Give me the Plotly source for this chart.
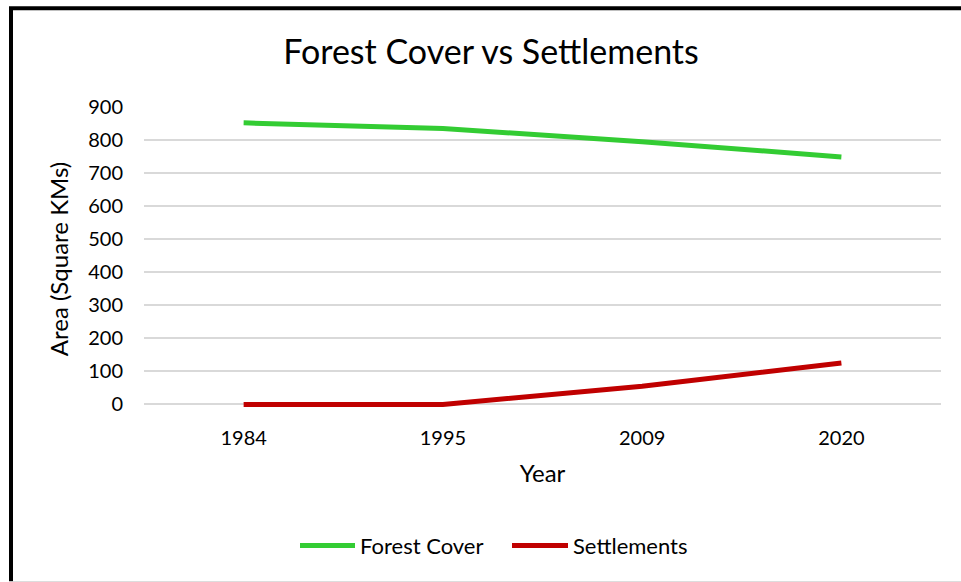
import plotly.graph_objects as go

years = ["1984", "1995", "2009", "2020"]
forest_cover = [852, 835, 795, 749]
settlements = [0, 0, 55, 125]
y_ticks = [0, 100, 200, 300, 400, 500, 600, 700, 800, 900]
series_names = ["Forest Cover", "Settlements"]
series_colors = ["#33CC33", "#C00000"]

FONT = "Lato"
W, H = 961, 582
Y_MIN, Y_MAX = -20, 900
top_px, zero_px = 107, 404
unit = (zero_px - top_px) / Y_MAX
bottom_px = zero_px - Y_MIN * unit
L, R, T, B = 144, 20, top_px, H - bottom_px
pw = W - L - R
ph = H - T - B

def px_x(x):
    return (x - L) / pw

def px_y(y):
    return (H - B - y) / ph

fig = go.Figure()
for name, vals, col in zip(series_names, [forest_cover, settlements], series_colors):
    fig.add_trace(go.Scatter(x=years, y=vals, mode="lines", name=name,
                             line=dict(color=col, width=5), showlegend=False))

fig.update_layout(
    width=W, height=H,
    margin=dict(l=L, r=R, t=T, b=B, pad=0),
    paper_bgcolor="white", plot_bgcolor="white",
    font=dict(family=FONT, color="#000000"),
    title=dict(text="Forest Cover vs Settlements", x=491 / W, xanchor="center",
               y=1 - 52 / H, yanchor="middle", font=dict(size=34, family=FONT, color="#000")),
    xaxis=dict(type="category", range=[-0.5, 3.5], showgrid=False, showline=False,
               ticks="", ticklabelstandoff=13,
               tickfont=dict(size=20, family=FONT), zeroline=False,
               title=dict(text="Year", font=dict(size=24, family=FONT), standoff=17)),
    yaxis=dict(range=[Y_MIN, Y_MAX], tickvals=y_ticks, showgrid=True, gridcolor="#D9D9D9",
               gridwidth=1.5, zeroline=False, showline=False, ticks="", ticklabelstandoff=20,
               tickfont=dict(size=20, family=FONT),
               title=dict(text="Area (Square KMs)", font=dict(size=24, family=FONT), standoff=12)),
    showlegend=False,
)

# manual legend matching the reference layout
legend_items = [(300, 355, 358), (512, 568, 571)]
for (x0, x1, tx), name, col in zip(legend_items, series_names, series_colors):
    fig.add_shape(type="line", xref="paper", yref="paper", x0=px_x(x0), x1=px_x(x1),
                  y0=px_y(545), y1=px_y(545), line=dict(color=col, width=5))
    fig.add_annotation(text=name, xref="paper", yref="paper", x=px_x(tx), y=px_y(545),
                       xanchor="left", yanchor="middle", showarrow=False,
                       font=dict(size=22, family=FONT, color="#000"))

# chart frame (black left/top, light bottom)
fig.add_shape(type="line", xref="paper", yref="paper", x0=px_x(11), x1=px_x(11),
              y0=px_y(8), y1=px_y(582), line=dict(color="black", width=4))
fig.add_shape(type="line", xref="paper", yref="paper", x0=px_x(9), x1=px_x(961),
              y0=px_y(8.5), y1=px_y(8.5), line=dict(color="black", width=4))
fig.add_shape(type="line", xref="paper", yref="paper", x0=px_x(9), x1=px_x(961),
              y0=px_y(581), y1=px_y(581), line=dict(color="#D9D9D9", width=1))

fig.write_html("out.html")
